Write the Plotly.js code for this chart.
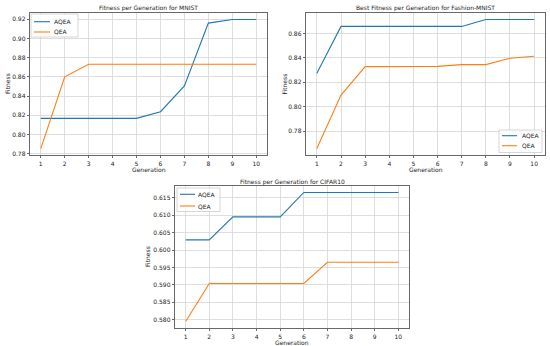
<!DOCTYPE html>
<html>
<head>
<meta charset="utf-8">
<script src="https://cdn.plot.ly/plotly-3.0.1.min.js"></script>
<style>html,body{margin:0;padding:0;background:#fff;}#chart{width:550px;height:346px;}</style>
</head>
<body>
<div id="chart"></div>
<script>
const generations = [1, 2, 3, 4, 5, 6, 7, 8, 9, 10];
const mnistAQEA = [0.8169, 0.8169, 0.8169, 0.8169, 0.8169, 0.8238, 0.8507, 0.9159, 0.9197, 0.9197];
const mnistQEA = [0.7855, 0.8600, 0.8731, 0.8731, 0.8731, 0.8731, 0.8731, 0.8731, 0.8731, 0.8731];
const fashionAQEA = [0.8274, 0.8658, 0.8658, 0.8658, 0.8658, 0.8658, 0.8658, 0.8715, 0.8715, 0.8715];
const fashionQEA = [0.7658, 0.8096, 0.8329, 0.8329, 0.8329, 0.8331, 0.8345, 0.8345, 0.8397, 0.8414];
const cifarAQEA = [0.6029, 0.6029, 0.6095, 0.6095, 0.6095, 0.6165, 0.6165, 0.6165, 0.6165, 0.6165];
const cifarQEA = [0.5795, 0.5904, 0.5904, 0.5904, 0.5904, 0.5904, 0.5965, 0.5965, 0.5965, 0.5965];
const seriesNames = ["AQEA", "QEA"];
const titles = ["Fitness per Generation for MNIST", "Best Fitness per Generation for Fashion-MNIST", "Fitness per Generation for CIFAR10"];
const xTitle = "Generation";
const yTitle = "Fitness";

const colors = ["#1f77b4", "#ff7f0e"];
const FONT = "DejaVu Sans, sans-serif";
const fs = 6;
const TXT = "#222";

function tr(y, i, xa, ya) {
  return {x: generations, y: y, name: seriesNames[i], type: "scatter", mode: "lines",
    line: {color: colors[i], width: 1.1}, xaxis: xa, yaxis: ya, showlegend: false};
}
const data = [
  tr(mnistAQEA, 0, "x", "y"), tr(mnistQEA, 1, "x", "y"),
  tr(fashionAQEA, 0, "x2", "y2"), tr(fashionQEA, 1, "x2", "y2"),
  tr(cifarAQEA, 0, "x3", "y3"), tr(cifarQEA, 1, "x3", "y3")
];

function pad(arrs) {
  const all = [].concat(...arrs);
  const mn = Math.min(...all), mx = Math.max(...all);
  const m = (mx - mn) * 0.05;
  return [mn - m, mx + m];
}

const W = 550, H = 346;
const px = v => v / W, py = v => 1 - v / H;

function xax(l, r, anchor) {
  return {domain: [px(l), px(r)], range: [0.55, 10.45], tickmode: "array", tickvals: generations,
    showgrid: true, gridcolor: "#d6d6d6", gridwidth: 0.8, zeroline: false,
    showline: true, mirror: true, linecolor: "#444", linewidth: 0.8,
    ticks: "outside", ticklen: 2.5, tickwidth: 0.8, tickcolor: "#444", anchor: anchor,
    tickfont: {family: FONT, size: fs, color: TXT}};
}
function yax(t, b, rng, dtick, tick0, fmt, anchor) {
  return {domain: [py(b), py(t)], range: rng, dtick: dtick, tick0: tick0, tickformat: fmt,
    showgrid: true, gridcolor: "#d6d6d6", gridwidth: 0.8, zeroline: false,
    showline: true, mirror: true, linecolor: "#444", linewidth: 0.8,
    ticks: "outside", ticklen: 2.5, tickwidth: 0.8, tickcolor: "#444",
    tickfont: {family: FONT, size: fs, color: TXT}, anchor: anchor};
}

function ann(text, x, y, extra) {
  return Object.assign({text: text, x: px(x), y: py(y), xref: "paper", yref: "paper", showarrow: false,
    font: {family: FONT, size: fs, color: TXT}, xanchor: "center", yanchor: "middle",
    borderpad: 0}, extra || {});
}

// manual legends: box [l,t,r,b], line x0,x1, text x, entry ys
const legends = [
  {box: [31, 14, 78, 37], lx: [34, 50], tx: 53, ys: [21.7, 32]},
  {box: [499, 130, 542, 152.5], lx: [502, 517], tx: 521, ys: [135.7, 145.7]},
  {box: [177, 188, 220, 211.5], lx: [180, 195], tx: 197, ys: [194.3, 206]}
];
const shapes = [];
const annotations = [
  ann(titles[0], 148.5, 8), ann(titles[1], 425.5, 8), ann(titles[2], 292, 182),
  ann(xTitle, 148.5, 169.5), ann(xTitle, 425.5, 169.5), ann(xTitle, 292, 342.3),
  ann(yTitle, 7, 84, {textangle: -90}), ann(yTitle, 283.5, 84, {textangle: -90}), ann(yTitle, 147, 257, {textangle: -90})
];
legends.forEach(L => {
  shapes.push({type: "rect", xref: "paper", yref: "paper", x0: px(L.box[0]), x1: px(L.box[2]), y0: py(L.box[3]), y1: py(L.box[1]),
    fillcolor: "rgba(255,255,255,0.85)", line: {color: "#cccccc", width: 0.8}, layer: "above"});
  seriesNames.forEach((n, i) => {
    shapes.push({type: "line", xref: "paper", yref: "paper", x0: px(L.lx[0]), x1: px(L.lx[1]), y0: py(L.ys[i]), y1: py(L.ys[i]),
      line: {color: colors[i], width: 1.1}, layer: "above"});
    annotations.push(ann(n, L.tx, L.ys[i], {xanchor: "left"}));
  });
});

const layout = {
  width: W, height: H, margin: {l: 0, r: 0, t: 0, b: 0},
  paper_bgcolor: "#fff", plot_bgcolor: "#fff",
  showlegend: false,
  xaxis: xax(30, 267, "y"),
  yaxis: yax(13, 155, pad([mnistAQEA, mnistQEA]), 0.02, 0.78, ".2f", "x"),
  xaxis2: xax(306, 545, "y2"),
  yaxis2: yax(13, 155, pad([fashionAQEA, fashionQEA]), 0.02, 0.78, ".2f", "x2"),
  xaxis3: xax(175, 409, "y3"),
  yaxis3: yax(186, 328, pad([cifarAQEA, cifarQEA]), 0.005, 0.58, ".3f", "x3"),
  shapes: shapes,
  annotations: annotations
};

Plotly.newPlot("chart", data, layout, {staticPlot: true, displayModeBar: false});
</script>
</body>
</html>
